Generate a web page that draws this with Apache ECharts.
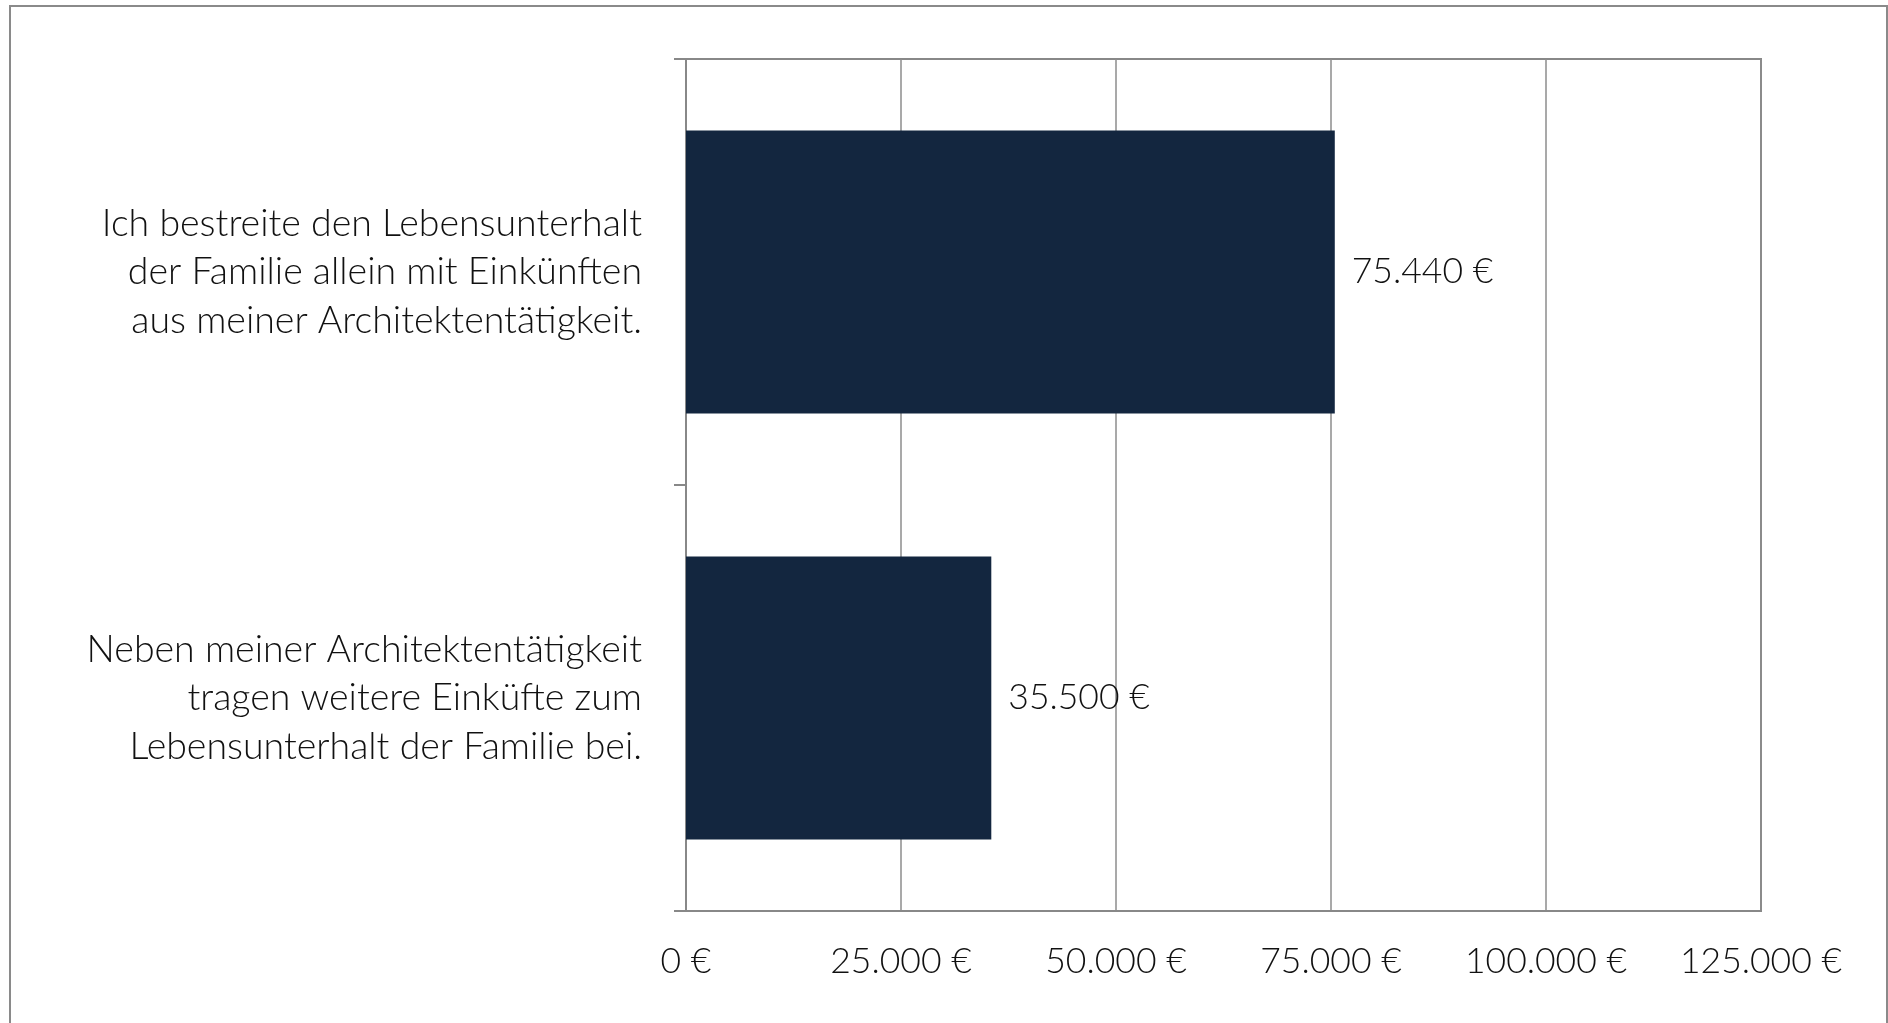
<!DOCTYPE html>
<html>
<head>
<meta charset="utf-8">
<script src="https://cdn.jsdelivr.net/npm/echarts@6/dist/echarts.min.js"></script>
<style>
html,body{margin:0;padding:0;background:#fff;}
#chart{width:1888px;height:1023px;}
</style>
</head>
<body>
<div id="chart"></div>
<script>
var categories = [
  "Ich bestreite den Lebensunterhalt\nder Familie allein mit Einkünften\naus meiner Architektentätigkeit.",
  "Neben meiner Architektentätigkeit\ntragen weitere Einküfte zum\nLebensunterhalt der Familie bei."
];
var values = [75440, 35500];
var axisMin = 0, axisMax = 125000, axisStep = 25000;

function fmtEuro(v) {
  var s = String(Math.round(v));
  s = s.replace(/\B(?=(\d{3})+(?!\d))/g, ".");
  return s + " €";
}

var FONT = "Lato";
var chart = echarts.init(document.getElementById('chart'), null, {renderer: 'canvas'});
chart.setOption({
  animation: false,
  backgroundColor: '#ffffff',
  graphic: [{
    type: 'rect',
    shape: {x: 10, y: 6, width: 1877, height: 1100},
    style: {fill: 'none', stroke: '#8a8a8a', lineWidth: 2}
  }],
  grid: {
    left: 686, right: 127, top: 59, bottom: 112,
    show: true, borderColor: '#888888', borderWidth: 2, backgroundColor: 'transparent'
  },
  xAxis: {
    type: 'value', min: axisMin, max: axisMax, interval: axisStep,
    axisLine: {show: true, lineStyle: {color: '#888888', width: 2}},
    axisTick: {show: false},
    splitLine: {show: true, lineStyle: {color: '#8c8c8c', width: 1.5}},
    axisLabel: {
      formatter: fmtEuro, margin: 33,
      fontFamily: FONT, fontWeight: 300, fontSize: 35.5, color: '#111111'
    }
  },
  yAxis: {
    type: 'category', data: categories, inverse: true,
    axisLine: {show: true, lineStyle: {color: '#888888', width: 2}},
    axisTick: {show: true, length: 12, lineStyle: {color: '#888888', width: 2}},
    splitLine: {show: false},
    axisLabel: {
      margin: 44, align: 'right',
      fontFamily: FONT, fontWeight: 300, fontSize: 37.5, lineHeight: 48.5, color: '#111111'
    }
  },
  series: [{
    type: 'bar',
    data: values,
    barWidth: '66.4%',
    itemStyle: {color: '#13263F'},
    label: {
      show: true, position: 'right', distance: 17,
      formatter: function (p) { return fmtEuro(p.value); },
      fontFamily: FONT, fontWeight: 300, fontSize: 35.5, color: '#111111'
    }
  }]
});
</script>
</body>
</html>
